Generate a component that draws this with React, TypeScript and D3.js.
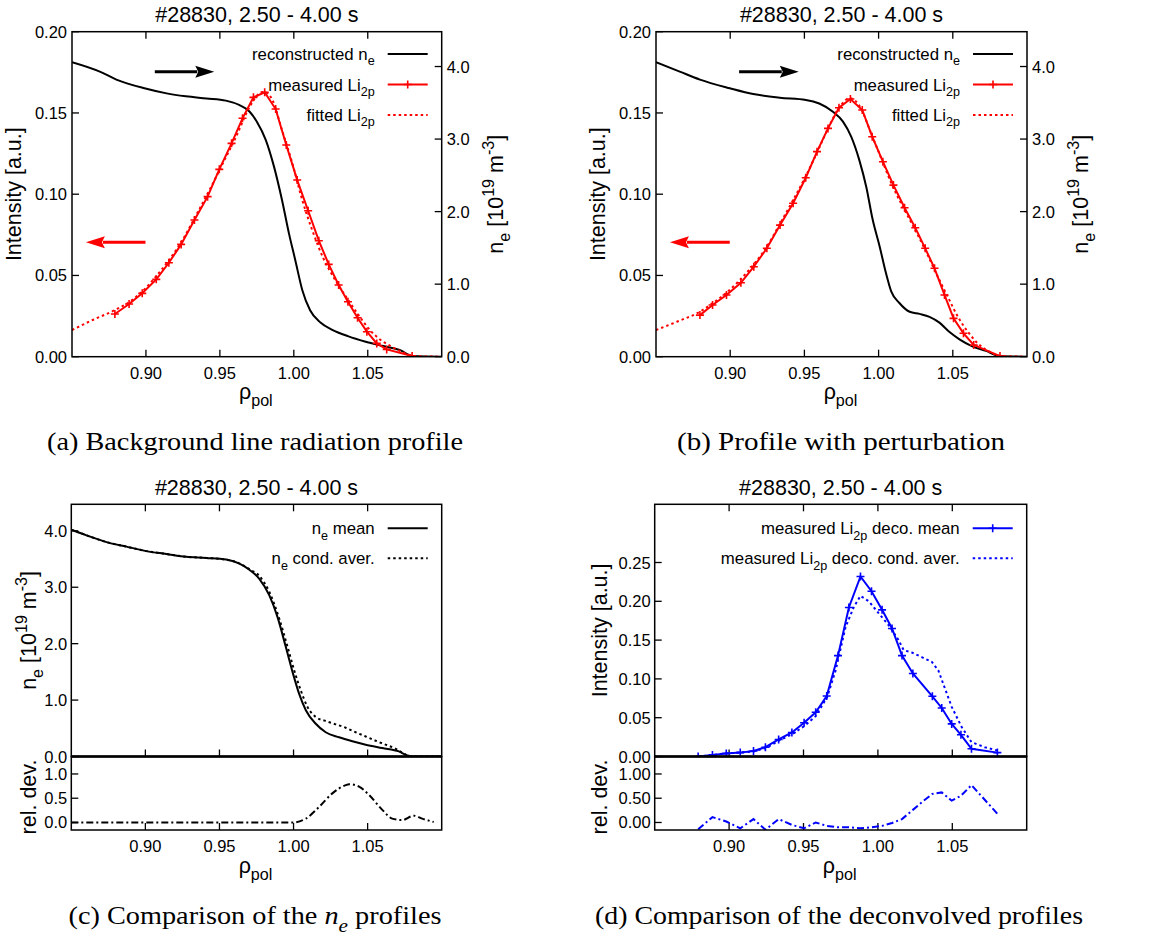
import React from 'react';
import * as d3 from 'd3';

// ---------- DATA ----------
const titleText = '#28830, 2.50 - 4.00 s';
const xTicks = [0.9, 0.95, 1.0, 1.05];
const intensityTicksAB = [0, 0.05, 0.1, 0.15, 0.2];
const neTicksRight = [0, 1, 2, 3, 4];
const neTicksC = [0, 1, 2, 3, 4];
const intensityTicksD = [0, 0.05, 0.1, 0.15, 0.2, 0.25];
const relTicksC = [0, 0.5, 1.0];
const relTicksD = [0, 0.5, 1.0];

// panel (a)
const rhoA_ne = [0.85,0.8688,0.880,0.899,0.914,0.927,0.941,0.954,0.963,0.970,0.975,0.981,0.9866,0.992,0.9967,1.001,1.0057,1.011,1.018,1.026,1.037,1.048,1.0595,1.072,1.080,1.10];
const neA = [4.06,3.93,3.82,3.70,3.63,3.59,3.56,3.53,3.47,3.38,3.24,2.99,2.62,2.16,1.70,1.33,0.92,0.64,0.47,0.37,0.28,0.21,0.15,0.09,0.01,0.0];
const rhoA_meas = [0.879,0.8886,0.8975,0.907,0.9155,0.9238,0.9328,0.9417,0.9496,0.9579,0.9653,0.9727,0.9803,0.9877,0.9949,1.0023,1.0097,1.0169,1.0236,1.0303,1.0366,1.0431,1.0494,1.0561,1.0628,1.080];
const measA = [0.0263,0.0324,0.039,0.0476,0.0578,0.0691,0.0841,0.0985,0.1153,0.1313,0.1467,0.1596,0.1627,0.1524,0.1303,0.1087,0.0898,0.0714,0.0568,0.0441,0.0338,0.024,0.0154,0.0082,0.0045,0.0004];
const rhoA_fit = [0.85,0.864,0.879,0.889,0.898,0.907,0.916,0.925,0.934,0.943,0.952,0.961,0.969,0.9755,0.980,0.9855,0.992,0.999,1.0057,1.0124,1.020,1.028,1.036,1.0438,1.0505,1.0573,1.0662,1.074,1.082,1.10];
const fitA = [0.0164,0.0226,0.0287,0.0338,0.0406,0.0496,0.0599,0.0722,0.0872,0.1026,0.119,0.1354,0.1518,0.161,0.163,0.158,0.1395,0.119,0.0964,0.078,0.0605,0.0472,0.0359,0.0256,0.0174,0.0113,0.0062,0.0025,0.0004,0];

// panel (b)
const rhoB_ne = [0.85,0.866,0.8796,0.8998,0.9155,0.9334,0.951,0.960,0.969,0.976,0.9816,0.987,0.9917,0.996,1.0007,1.005,1.0085,1.014,1.0209,1.0276,1.0343,1.041,1.0478,1.0545,1.0635,1.0724,1.0814,1.10];
const neB = [4.06,3.93,3.82,3.70,3.62,3.57,3.54,3.49,3.38,3.24,3.03,2.71,2.34,1.89,1.52,1.15,0.90,0.74,0.62,0.59,0.55,0.47,0.34,0.24,0.14,0.08,0.01,0];
const rhoB_meas = [0.8796,0.8881,0.8975,0.9072,0.9159,0.9247,0.9336,0.9424,0.9509,0.9585,0.9659,0.9733,0.981,0.989,0.9957,1.0029,1.01,1.0175,1.0247,1.0314,1.0377,1.0444,1.0505,1.0572,1.0641,1.0818];
const measB = [0.0256,0.0318,0.038,0.0455,0.0554,0.0667,0.081,0.0944,0.1101,0.1262,0.1405,0.1532,0.1586,0.1518,0.1354,0.12,0.1056,0.0917,0.0794,0.0667,0.0544,0.038,0.0236,0.0144,0.0072,0.0004];
const rhoB_fit = [0.85,0.864,0.8796,0.8886,0.8975,0.9065,0.9155,0.9244,0.9334,0.9424,0.9513,0.9603,0.967,0.9738,0.9805,0.9872,0.995,1.0018,1.0096,1.0175,1.0253,1.032,1.0399,1.0466,1.0534,1.0601,1.0668,1.0747,1.0825,1.10];
const fitB = [0.0164,0.0215,0.0277,0.0332,0.0394,0.0472,0.0564,0.0673,0.0816,0.0964,0.1118,0.1292,0.1426,0.1538,0.159,0.1543,0.1374,0.122,0.1046,0.0903,0.0769,0.0646,0.0492,0.0369,0.0246,0.0154,0.0082,0.0031,0.0004,0];

// arrows (rho start, rho end, intensity level)
const arrowNe = [0.906, 0.9462, 0.1754];
const arrowLi = [0.8997, 0.8594, 0.0704];

// panel (c)
const rhoC_mean = [0.85,0.8603,0.8738,0.8872,0.9007,0.9141,0.9276,0.941,0.9545,0.9635,0.9702,0.9769,0.9836,0.9892,0.9948,0.9993,1.0038,1.0083,1.015,1.0217,1.0307,1.0397,1.0487,1.0599,1.0711,1.0767,1.080,1.10];
const neC_mean = [4.02,3.92,3.80,3.72,3.64,3.59,3.54,3.52,3.49,3.42,3.31,3.15,2.86,2.47,1.94,1.50,1.11,0.82,0.58,0.43,0.34,0.27,0.21,0.15,0.09,0.02,0,0];
const rhoC_cond = [0.85,0.8603,0.8738,0.8872,0.9007,0.9141,0.9276,0.941,0.9545,0.9635,0.9702,0.9769,0.9836,0.9904,0.996,1.0004,1.0049,1.0094,1.015,1.0217,1.0285,1.0352,1.0419,1.0487,1.0554,1.0621,1.0688,1.0745,1.079,1.10];
const neC_cond = [4.02,3.92,3.80,3.72,3.64,3.59,3.54,3.52,3.49,3.42,3.32,3.20,2.92,2.44,1.94,1.53,1.17,0.88,0.70,0.63,0.57,0.51,0.43,0.355,0.28,0.21,0.14,0.05,0,0];
const rhoC_rel = [0.85,0.90,0.95,0.9993,1.0083,1.0172,1.0262,1.0352,1.0375,1.0442,1.0509,1.0599,1.0666,1.0733,1.0812,1.0868,1.0946];
const relC = [0,0,0,0,0.08,0.32,0.6,0.77,0.79,0.74,0.57,0.26,0.08,0.05,0.14,0.08,0.01];

// panel (d)
const rhoD_mean = [0.8792,0.8888,0.8981,0.9075,0.9164,0.9244,0.9333,0.9422,0.9504,0.9582,0.9656,0.9732,0.9805,0.9883,0.9957,1.0028,1.0095,1.0162,1.0235,1.0366,1.0429,1.0496,1.0558,1.0629,1.0803];
const intD_mean = [0.0,0.002,0.004,0.005,0.007,0.012,0.022,0.031,0.0435,0.057,0.078,0.130,0.192,0.232,0.213,0.189,0.165,0.130,0.107,0.0776,0.0625,0.042,0.028,0.010,0.005];
const rhoD_cond = [0.8792,0.8981,0.9164,0.9248,0.9337,0.9426,0.9504,0.9582,0.966,0.9716,0.9783,0.9839,0.9883,0.9939,1.0006,1.0073,1.0139,1.0173,1.0228,1.0295,1.0362,1.0406,1.0451,1.0496,1.0563,1.0629,1.0718,1.0803];
const intD_cond = [0,0.004,0.0065,0.011,0.0207,0.029,0.039,0.052,0.077,0.111,0.167,0.193,0.207,0.200,0.1845,0.169,0.150,0.137,0.134,0.128,0.122,0.111,0.0875,0.064,0.038,0.0185,0.012,0.0078];
const rhoD_rel = [0.8792,0.8888,0.8981,0.9075,0.9164,0.9244,0.9333,0.9422,0.9504,0.9582,0.9656,0.9732,0.9805,0.9883,0.9957,1.0028,1.0095,1.0162,1.0235,1.0300,1.0366,1.0429,1.0496,1.0558,1.0629,1.0803];
const relD = [-0.14,0.11,0.02,-0.12,0.07,-0.15,0.07,-0.05,-0.12,0.0,-0.07,-0.10,-0.10,-0.12,-0.10,-0.07,-0.01,0.07,0.26,0.43,0.59,0.62,0.45,0.55,0.77,0.18];

// ---------- STYLE ----------
const SANS = '"Liberation Sans", Arial, Helvetica, sans-serif';
const SERIF = '"Liberation Serif", "Times New Roman", serif';
const RED = '#ff0000';
const BLUE = '#0000ff';
const TICK = 7;
const FS_TICK = 16.5;
const FS_LAB = 21.5;
const FS_LEG = 16.8;
const FS_CAP = 25;

type Part = { t: string; k?: string };
const P = (t: string, k = 'n'): Part => ({ t, k });

function Rich({ x, y, parts, size, anchor = 'start', transform, family = SANS, fill = '#000', textLength }: any) {
  let cur = 0;
  return (
    <text x={x} y={y} fontSize={size} textAnchor={anchor} transform={transform} fontFamily={family} fill={fill}
      textLength={textLength} lengthAdjust={textLength ? 'spacingAndGlyphs' : undefined}>
      {parts.map((p: Part, i: number) => {
        const k = p.k || 'n';
        const small = k.includes('sub') || k.includes('sup');
        const target = k.includes('sub') ? size * 0.32 : k.includes('sup') ? -size * 0.42 : 0;
        const dy = target - cur;
        cur = target;
        return (
          <tspan key={i} dy={dy} fontSize={small ? size * 0.75 : size} fontStyle={k.startsWith('it') ? 'italic' : undefined}>
            {p.t}
          </tspan>
        );
      })}
    </text>
  );
}

const zip = (xs: number[], ys: number[]) => xs.map((x, i) => [x, ys[i]] as [number, number]);

function Plus({ x, y, color }: any) {
  const s = 4;
  return <path d={`M${x - s},${y}H${x + s}M${x},${y - s}V${y + s}`} stroke={color} strokeWidth={1.6} />;
}

function Arrow({ x1, x2, y, color }: any) {
  const dir = Math.sign(x2 - x1);
  const hl = 19, hw = 6;
  const bx = x2 - dir * hl;
  return (
    <g>
      <line x1={x1} y1={y} x2={bx + dir * 2} y2={y} stroke={color} strokeWidth={3} />
      <path d={`M${x2},${y}L${bx},${y - hw}L${bx + dir * 3},${y}L${bx},${y + hw}Z`} fill={color} />
    </g>
  );
}

function Legend({ right, y, label, color, dash, marker }: any) {
  const lx1 = right - 54, lx2 = right - 14;
  return (
    <g>
      <Rich x={right - 67} y={y + 6} parts={label} size={FS_LEG} anchor="end" />
      <line x1={lx1} x2={lx2} y1={y} y2={y} stroke={color} strokeWidth={2} strokeDasharray={dash} />
      {marker && <Plus x={(lx1 + lx2) / 2} y={y} color={color} />}
    </g>
  );
}

const labelNe: Part[] = [P('n'), P('e', 'sub'), P(' [10'), P('19', 'sup'), P(' m'), P('-3', 'sup'), P(']')];
const labelInt: Part[] = [P('Intensity [a.u.]')];
const labelRho: Part[] = [P('ρ'), P('pol', 'sub')];

function TopPanel({ x0, x1, rhoNe, ne, rhoM, meas, rhoF, fit, caption, capLen, cx }: any) {
  const y0 = 31.7, y1 = 356.7;
  const x = d3.scaleLinear().domain([0.85, 1.10]).range([x0, x1]);
  const yL = d3.scaleLinear().domain([0, 0.2]).range([y1, y0]);
  const yR = d3.scaleLinear().domain([0, 4.48]).range([y1, y0]);
  const neLine = d3.line<[number, number]>().x(d => x(d[0])).y(d => yR(d[1])).curve(d3.curveMonotoneX)(zip(rhoNe, ne)) as string;
  const fitLine = d3.line<[number, number]>().x(d => x(d[0])).y(d => yL(d[1])).curve(d3.curveMonotoneX)(zip(rhoF, fit)) as string;
  const measPts = zip(rhoM, meas);
  const measLine = d3.line<[number, number]>().x(d => x(d[0])).y(d => yL(d[1]))(measPts) as string;
  const mid = (x0 + x1) / 2;
  return (
    <g>
      <defs>
        <clipPath id={`clip${Math.round(x0)}`}><rect x={x0} y={y0} width={x1 - x0} height={y1 - y0} /></clipPath>
      </defs>
      {xTicks.map(t => (
        <g key={t}>
          <line x1={x(t)} x2={x(t)} y1={y1} y2={y1 - TICK} stroke="#000" strokeWidth={1.3} />
          <line x1={x(t)} x2={x(t)} y1={y0} y2={y0 + TICK} stroke="#000" strokeWidth={1.3} />
          <text x={x(t)} y={379} fontSize={FS_TICK} textAnchor="middle" fontFamily={SANS}>{t.toFixed(2)}</text>
        </g>
      ))}
      {intensityTicksAB.map(t => (
        <g key={t}>
          <line x1={x0} x2={x0 + TICK} y1={yL(t)} y2={yL(t)} stroke="#000" strokeWidth={1.3} />
          <text x={x0 - 5} y={yL(t) + 6} fontSize={FS_TICK} textAnchor="end" fontFamily={SANS}>{t.toFixed(2)}</text>
        </g>
      ))}
      {neTicksRight.map(t => (
        <g key={t}>
          <line x1={x1} x2={x1 - TICK} y1={yR(t)} y2={yR(t)} stroke="#000" strokeWidth={1.3} />
          <text x={x1 + 5} y={yR(t) + 6} fontSize={FS_TICK} textAnchor="start" fontFamily={SANS}>{t.toFixed(1)}</text>
        </g>
      ))}
      <g clipPath={`url(#clip${Math.round(x0)})`}>
        <path d={neLine} fill="none" stroke="#000" strokeWidth={2} />
        <path d={fitLine} fill="none" stroke={RED} strokeWidth={2} strokeDasharray="2.5,3" />
        <path d={measLine} fill="none" stroke={RED} strokeWidth={2} />
        {measPts.map((p, i) => <Plus key={i} x={x(p[0])} y={yL(p[1])} color={RED} />)}
      </g>
      <Arrow x1={x(arrowNe[0])} x2={x(arrowNe[1])} y={yL(arrowNe[2])} color="#000" />
      <Arrow x1={x(arrowLi[0])} x2={x(arrowLi[1])} y={yL(arrowLi[2])} color={RED} />
      <Legend right={x1} y={54} label={[P('reconstructed n'), P('e', 'sub')]} color="#000" />
      <Legend right={x1} y={84.5} label={[P('measured Li'), P('2p', 'sub')]} color={RED} marker />
      <Legend right={x1} y={115} label={[P('fitted Li'), P('2p', 'sub')]} color={RED} dash="2.5,3" />
      <rect x={x0} y={y0} width={x1 - x0} height={y1 - y0} fill="none" stroke="#000" strokeWidth={1.5} />
      <text x={mid} y={22} fontSize={FS_LAB} textAnchor="middle" fontFamily={SANS}>{titleText}</text>
      <Rich x={0} y={0} parts={labelInt} size={FS_LAB} anchor="middle" transform={`translate(${x0 - 51},${(y0 + y1) / 2}) rotate(-90)`} />
      <Rich x={0} y={0} parts={labelNe} size={FS_LAB} anchor="middle" transform={`translate(${x1 + 61},${(y0 + y1) / 2}) rotate(-90)`} />
      <Rich x={mid - 1} y={399} parts={labelRho} size={FS_LAB} anchor="middle" />
      <Rich x={cx} y={450} parts={caption} size={FS_CAP} anchor="middle" family={SERIF} textLength={capLen} />
    </g>
  );
}

function BottomPanel({ x0, x1, main, sub, yMainDomain, mainTicks, mainFmt, subTicks, subFmt, ylabel, labOff, legends, caption, capLen, cx, id }: any) {
  const y0 = 504.3, ys = 756.5, y1 = 830;
  const x = d3.scaleLinear().domain([0.85, 1.10]).range([x0, x1]);
  const yM = d3.scaleLinear().domain(yMainDomain).range([ys, y0]);
  const yS = d3.scaleLinear().domain([-0.155, 1.36]).range([y1, ys]);
  const mid = (x0 + x1) / 2;
  return (
    <g>
      <defs>
        <clipPath id={`cm${id}`}><rect x={x0} y={y0} width={x1 - x0} height={ys - y0} /></clipPath>
        <clipPath id={`cs${id}`}><rect x={x0} y={ys} width={x1 - x0} height={y1 - ys} /></clipPath>
      </defs>
      {xTicks.map(t => (
        <g key={t}>
          <line x1={x(t)} x2={x(t)} y1={y0} y2={y0 + TICK} stroke="#000" strokeWidth={1.3} />
          <line x1={x(t)} x2={x(t)} y1={ys} y2={ys - TICK} stroke="#000" strokeWidth={1.3} />
          <line x1={x(t)} x2={x(t)} y1={y1} y2={y1 - TICK} stroke="#000" strokeWidth={1.3} />
          <text x={x(t)} y={852} fontSize={FS_TICK} textAnchor="middle" fontFamily={SANS}>{t.toFixed(2)}</text>
        </g>
      ))}
      {mainTicks.map((t: number) => (
        <g key={t}>
          <line x1={x0} x2={x0 + TICK} y1={yM(t)} y2={yM(t)} stroke="#000" strokeWidth={1.3} />
          <text x={x0 - 4} y={yM(t) + 6} fontSize={FS_TICK} textAnchor="end" fontFamily={SANS}>{mainFmt(t)}</text>
        </g>
      ))}
      {subTicks.map((t: number) => (
        <g key={t}>
          <line x1={x0} x2={x0 + TICK} y1={yS(t)} y2={yS(t)} stroke="#000" strokeWidth={1.3} />
          <text x={x0 - 4} y={yS(t) + 6} fontSize={FS_TICK} textAnchor="end" fontFamily={SANS}>{subFmt(t)}</text>
        </g>
      ))}
      <g clipPath={`url(#cm${id})`}>
        {main.map((s: any, i: number) => {
          const pts = zip(s.xs, s.ys);
          const gen = d3.line<[number, number]>().x(d => x(d[0])).y(d => yM(d[1]));
          if (s.smooth) gen.curve(d3.curveMonotoneX);
          return (
            <g key={i}>
              <path d={gen(pts) as string} fill="none" stroke={s.color} strokeWidth={2} strokeDasharray={s.dash} />
              {s.marker && pts.map((p, j) => <Plus key={j} x={x(p[0])} y={yM(p[1])} color={s.color} />)}
            </g>
          );
        })}
      </g>
      <g clipPath={`url(#cs${id})`}>
        {sub.map((s: any, i: number) => {
          const gen = d3.line<[number, number]>().x(d => x(d[0])).y(d => yS(d[1]));
          if (s.smooth) gen.curve(d3.curveMonotoneX);
          return <path key={i} d={gen(zip(s.xs, s.ys)) as string} fill="none" stroke={s.color} strokeWidth={2} strokeDasharray="7,3,2,3" />;
        })}
      </g>
      {legends.map((l: any, i: number) => (
        <Legend key={i} right={x1} y={528.3 + 30 * i} label={l.label} color={l.color} dash={l.dash} marker={l.marker} />
      ))}
      <rect x={x0} y={y0} width={x1 - x0} height={ys - y0} fill="none" stroke="#000" strokeWidth={1.5} />
      <rect x={x0} y={ys} width={x1 - x0} height={y1 - ys} fill="none" stroke="#000" strokeWidth={1.5} />
      <line x1={x0} x2={x1} y1={ys} y2={ys} stroke="#000" strokeWidth={2.5} />
      <text x={mid} y={495} fontSize={FS_LAB} textAnchor="middle" fontFamily={SANS}>{titleText}</text>
      <Rich x={0} y={0} parts={ylabel} size={FS_LAB} anchor="middle" transform={`translate(${x0 - labOff},${(y0 + ys) / 2}) rotate(-90)`} />
      <Rich x={0} y={0} parts={[P('rel. dev.')]} size={FS_LAB} anchor="middle" transform={`translate(${x0 - labOff},${797}) rotate(-90)`} />
      <Rich x={mid - 1} y={873} parts={labelRho} size={FS_LAB} anchor="middle" />
      <Rich x={cx} y={924} parts={caption} size={FS_CAP} anchor="middle" family={SERIF} textLength={capLen} />
    </g>
  );
}

export default function App() {
  return (
    <svg width={1157} height={936} viewBox="0 0 1157 936" style={{ display: 'block', position: 'absolute', left: 0, top: 0, background: '#fff' }}>
      <rect x={0} y={0} width={1157} height={936} fill="#fff" />
      <TopPanel x0={72} x1={441.7} rhoNe={rhoA_ne} ne={neA} rhoM={rhoA_meas} meas={measA} rhoF={rhoA_fit} fit={fitA}
        caption={[P('(a) Background line radiation profile')]} capLen={416} cx={255} />
      <TopPanel x0={656} x1={1027} rhoNe={rhoB_ne} ne={neB} rhoM={rhoB_meas} meas={measB} rhoF={rhoB_fit} fit={fitB}
        caption={[P('(b) Profile with perturbation')]} capLen={328} cx={841} />
      <BottomPanel id="c" x0={71.3} x1={441.7} labOff={35}
        main={[
          { xs: rhoC_mean, ys: neC_mean, color: '#000', smooth: true },
          { xs: rhoC_cond, ys: neC_cond, color: '#000', smooth: true, dash: '2.5,3' },
        ]}
        sub={[{ xs: rhoC_rel, ys: relC, color: '#000', smooth: true }]}
        yMainDomain={[0, 4.47]} mainTicks={neTicksC} mainFmt={(t: number) => t.toFixed(1)}
        subTicks={relTicksC} subFmt={(t: number) => t.toFixed(1)}
        ylabel={labelNe}
        legends={[
          { label: [P('n'), P('e', 'sub'), P(' mean')], color: '#000' },
          { label: [P('n'), P('e', 'sub'), P(' cond. aver.')], color: '#000', dash: '2.5,3' },
        ]}
        caption={[P('(c) Comparison of the '), P('n', 'it'), P('e', 'itsub'), P(' profiles')]} capLen={373} cx={255} />
      <BottomPanel id="d" x0={654.7} x1={1026.7} labOff={48}
        main={[
          { xs: rhoD_cond, ys: intD_cond, color: BLUE, dash: '2.5,3' },
          { xs: rhoD_mean, ys: intD_mean, color: BLUE, marker: true },
        ]}
        sub={[{ xs: rhoD_rel, ys: relD, color: BLUE }]}
        yMainDomain={[0, 0.325]} mainTicks={intensityTicksD} mainFmt={(t: number) => t.toFixed(2)}
        subTicks={relTicksD} subFmt={(t: number) => t.toFixed(2)}
        ylabel={labelInt}
        legends={[
          { label: [P('measured Li'), P('2p', 'sub'), P(' deco. mean')], color: BLUE, marker: true },
          { label: [P('measured Li'), P('2p', 'sub'), P(' deco. cond. aver.')], color: BLUE, dash: '2.5,3' },
        ]}
        caption={[P('(d) Comparison of the deconvolved profiles')]} capLen={488} cx={839} />
    </svg>
  );
}
